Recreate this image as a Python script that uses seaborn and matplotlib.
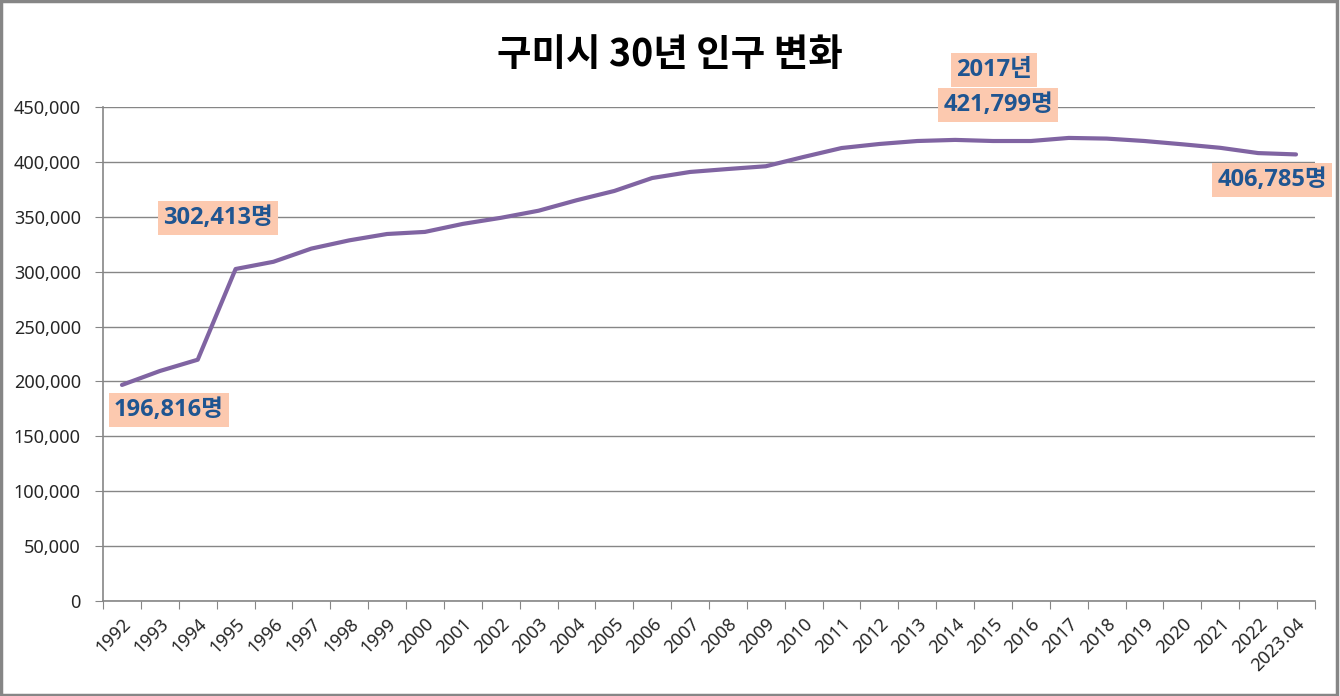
import numpy as np
import pandas as pd
import matplotlib
matplotlib.use("Agg")
import matplotlib.pyplot as plt
import seaborn as sns
from matplotlib.ticker import FuncFormatter, FixedLocator
from matplotlib.patches import Rectangle

# Data
years = [str(y) for y in range(1992, 2023)] + ["2023.04"]
population = [196816, 209500, 219800, 302413, 309000, 321000, 328500, 334300,
              336200, 343500, 349000, 355500, 365000, 373500, 385300, 390800,
              393500, 396000, 404500, 412600, 416300, 419000, 420000, 419000,
              419000, 421799, 421200, 419000, 416000, 412800, 408000, 406785]

df = pd.DataFrame({"idx": np.arange(len(years)), "year": years, "pop": population})

sns.set_style("white")
fonts = ["Noto Sans", "Noto Sans CJK KR", "DejaVu Sans"]
plt.rcParams["font.family"] = fonts

fig = plt.figure(figsize=(13.4, 6.96), dpi=100)
ax = fig.add_axes([0.0769, 0.1365, 0.9044, 0.7098])

sns.lineplot(data=df, x="idx", y="pop", ax=ax, color="#8064A2", linewidth=3)

ax.set_xlim(-0.5, len(years) - 0.5)
ax.set_ylim(0, 450000)
ax.set_yticks(np.arange(0, 450001, 50000))
ax.yaxis.set_major_formatter(FuncFormatter(lambda v, p: f"{int(v):,}"))
ax.grid(axis="y", color="#868686", linewidth=1)
ax.set_axisbelow(True)

# ticks between categories, labels at centres
ax.xaxis.set_major_locator(FixedLocator(np.arange(-0.5, len(years), 1)))
ax.xaxis.set_minor_locator(FixedLocator(df["idx"]))
ax.set_xticklabels([])
ax.set_xticklabels(years, minor=True, rotation=45, ha="right", rotation_mode="anchor")
ax.tick_params(axis="x", which="major", length=6, color="#868686", direction="out", bottom=True)
ax.tick_params(axis="x", which="minor", length=0, labelsize=13, pad=10)
ax.tick_params(axis="y", length=6, color="#868686", direction="out", left=True, labelsize=13, pad=10)

for s in ["top", "right"]:
    ax.spines[s].set_visible(False)
for s in ["left", "bottom"]:
    ax.spines[s].set_color("#868686")
    ax.spines[s].set_linewidth(1.2)

ax.set_xlabel("")
ax.set_ylabel("")

fig.text(0.5, 0.922, "구미시 30년 인구 변화", ha="center", va="center",
         fontsize=27, fontweight="bold", color="black", family=["Noto Sans CJK KR"])

box = dict(boxstyle="square,pad=0.22", facecolor="#FCC9AF", edgecolor="none")
lab = dict(fontsize=17, fontweight="bold", color="#1F5591", ha="center", va="center",
           bbox=box, family=["Open Sans", "Noto Sans CJK KR"])
fig.text(169 / 1340, 1 - 410 / 696, f"{population[0]:,}명", **lab)
fig.text(218 / 1340, 1 - 218 / 696, f"{population[3]:,}명", **lab)
fig.text(994 / 1340, 1 - 70 / 696, "2017년", **lab)
fig.text(998 / 1340, 1 - 105 / 696, f"{population[25]:,}명", **lab)
fig.text(1272 / 1340, 1 - 180 / 696, f"{population[-1]:,}명", **lab)

fig.patches.append(Rectangle((0.001, 0.002), 0.997, 0.996, transform=fig.transFigure,
                             fill=False, edgecolor="#868686", linewidth=2.5))

fig.savefig("out.png", dpi=100)
